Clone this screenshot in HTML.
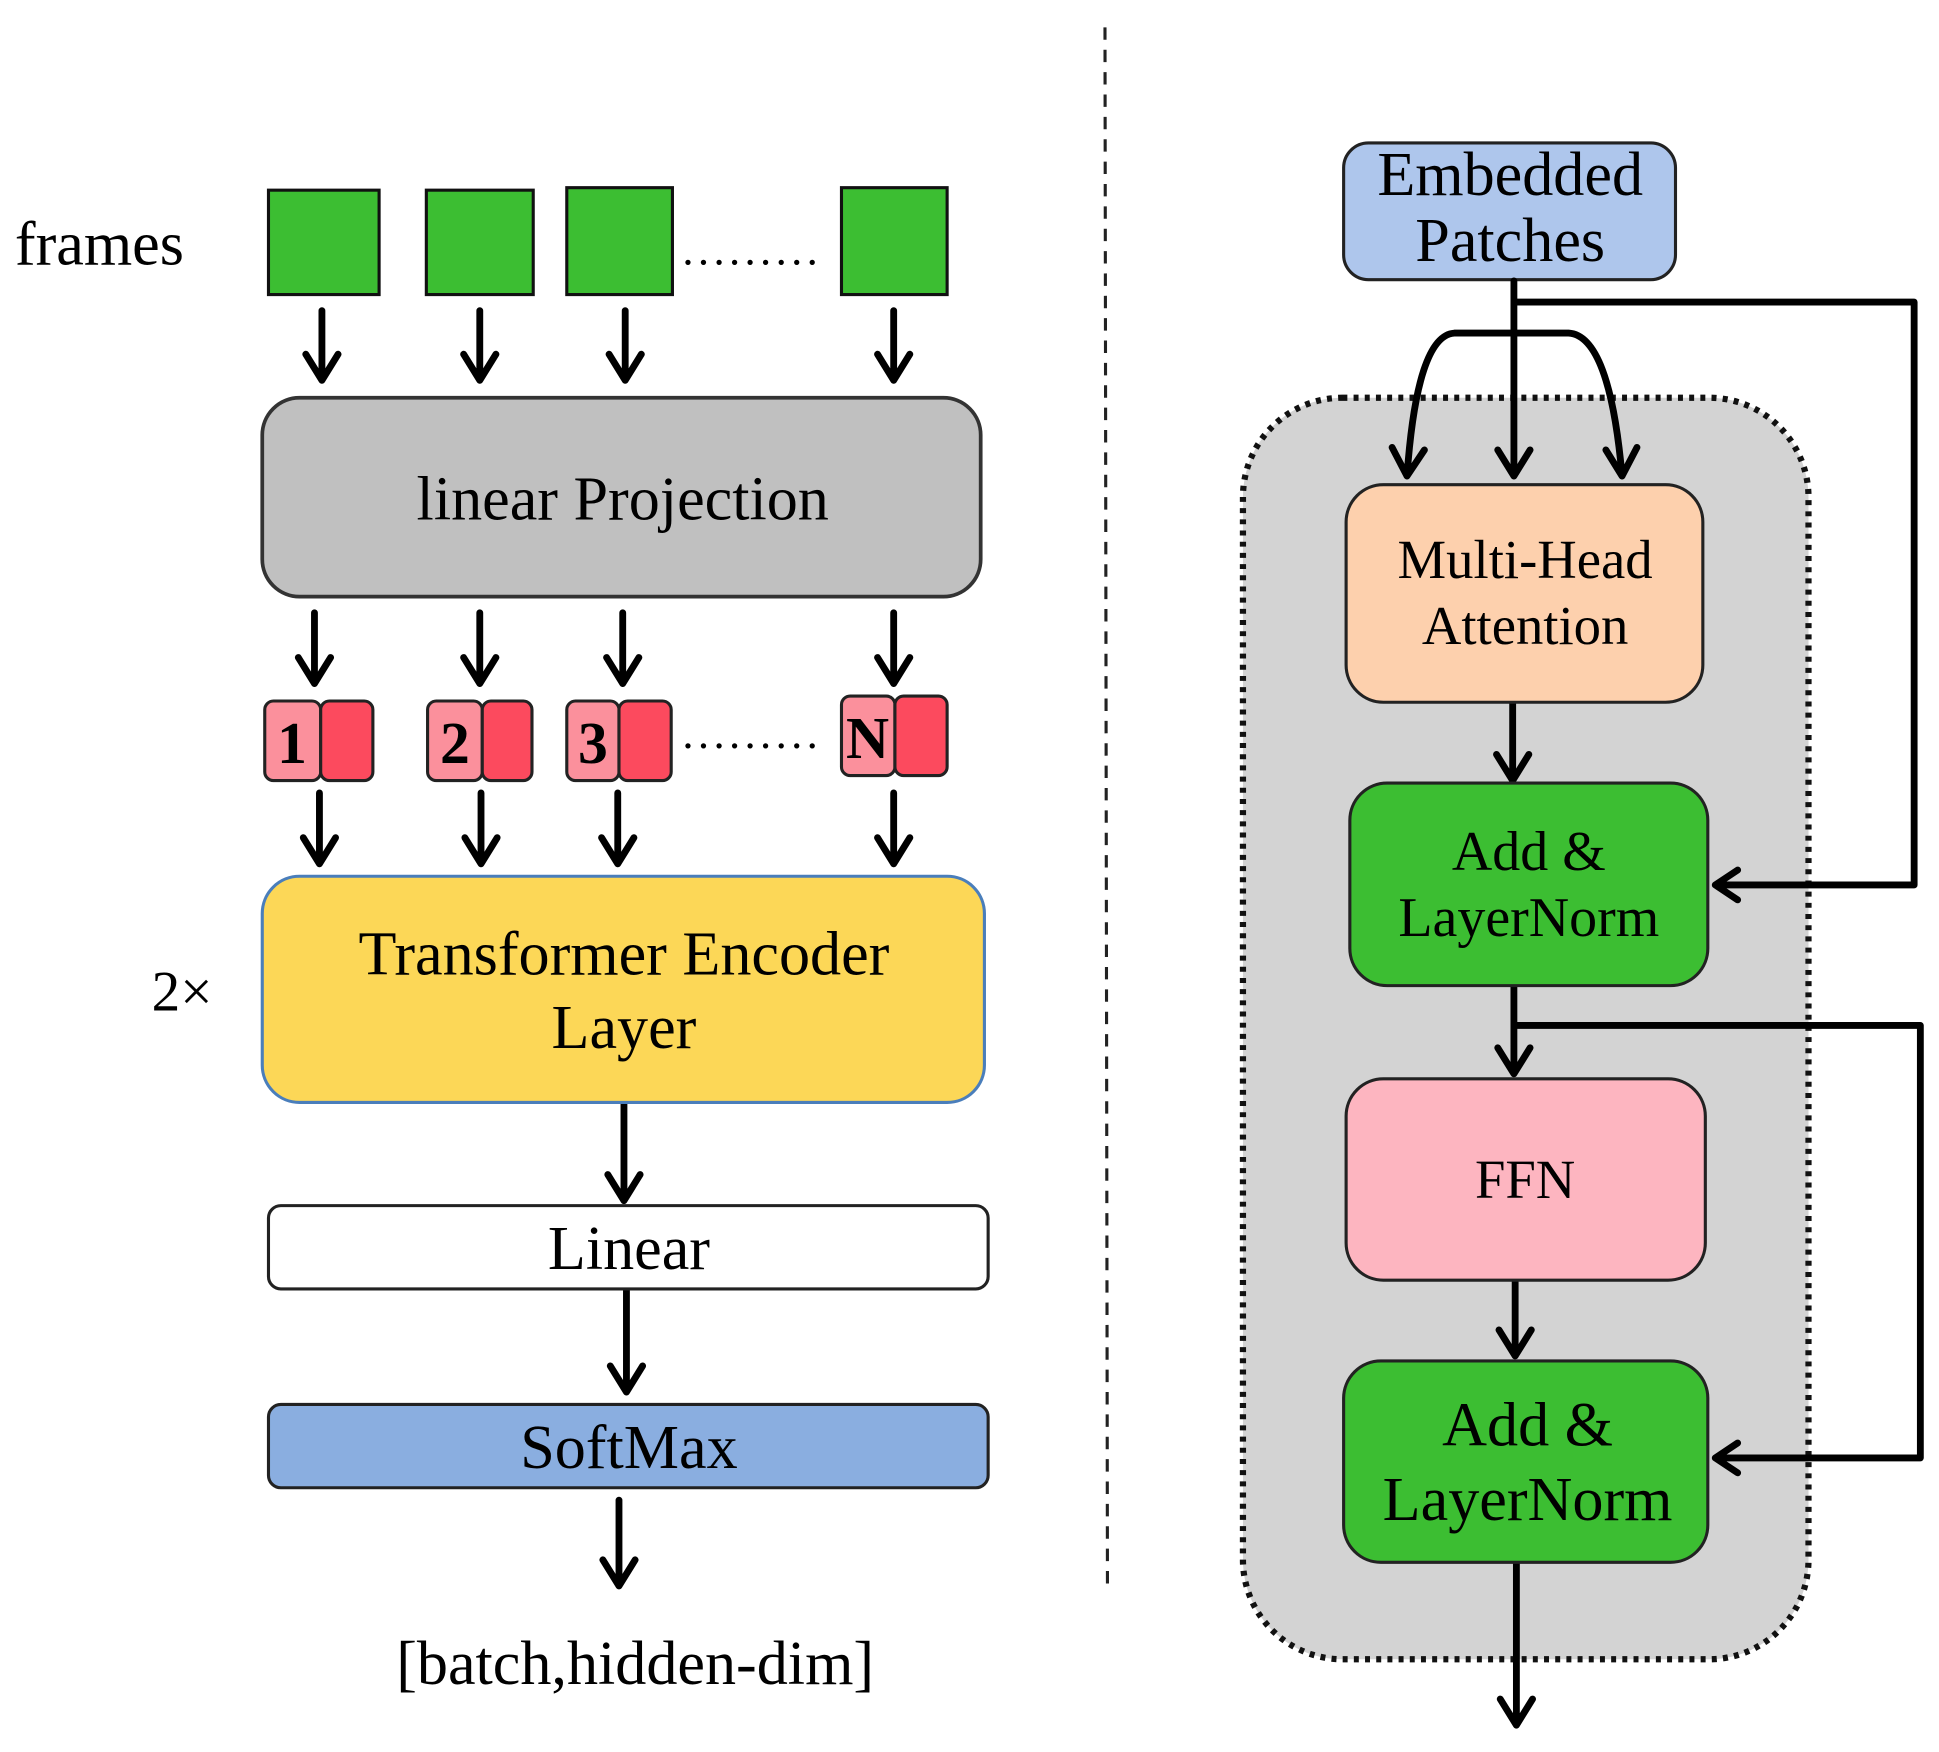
<!DOCTYPE html>
<html><head><meta charset="utf-8"><style>
html,body{margin:0;padding:0;background:#fff;}
svg{display:block;}
text{font-family:"Liberation Serif",serif;fill:#000;}
</style></head><body>
<svg width="1939" height="1752" viewBox="0 0 1560 1409.6" preserveAspectRatio="none" xmlns="http://www.w3.org/2000/svg">
<!-- left -->
<text x="12" y="213" font-size="50">frames</text>
<g fill="#3cbe32" stroke="#111" stroke-width="2.5">
<rect x="216" y="153" width="89" height="84"/>
<rect x="343" y="153" width="86" height="84"/>
<rect x="456" y="151" width="85" height="86"/>
<rect x="677" y="151" width="85" height="86"/>
</g>
<text x="549" y="213" font-size="36" letter-spacing="3.5">.........</text>

<g stroke="#000" stroke-width="5.5" fill="none" stroke-linecap="round" stroke-linejoin="round">
<path d="M259 250V306M246 285L259 306L272 285"/>
<path d="M386 250V306M373 285L386 306L399 285"/>
<path d="M503 250V306M490 285L503 306L516 285"/>
<path d="M719 250V306M706 285L719 306L732 285"/>
<path d="M253 493V550M240 529L253 550L266 529"/>
<path d="M386 493V550M373 529L386 550L399 529"/>
<path d="M501 493V550M488 529L501 550L514 529"/>
<path d="M719 493V550M706 529L719 550L732 529"/>
<path d="M257 638V695M244 674L257 695L270 674"/>
<path d="M387 638V695M374 674L387 695L400 674"/>
<path d="M497 638V695M484 674L497 695L510 674"/>
<path d="M719 638V695M706 674L719 695L732 674"/>
<path d="M502 888V966M489 945L502 966L515 945"/>
<path d="M504 1038V1120M491 1099L504 1120L517 1099"/>
<path d="M498 1207V1276M485 1255L498 1276L511 1255"/>
</g>

<rect x="211" y="320" width="578" height="160" rx="30" fill="#c0c0c0" stroke="#333" stroke-width="3"/>
<text x="501" y="418" font-size="50" text-anchor="middle">linear Projection</text>

<g stroke="#222" stroke-width="2.5">
<rect x="213" y="564" width="45" height="64" rx="7" fill="#fb909c"/>
<rect x="258" y="564" width="42" height="64" rx="7" fill="#fc4a5e"/>
<rect x="344" y="564" width="44" height="64" rx="7" fill="#fb909c"/>
<rect x="388" y="564" width="40" height="64" rx="7" fill="#fc4a5e"/>
<rect x="456" y="564" width="42" height="64" rx="7" fill="#fb909c"/>
<rect x="498" y="564" width="42" height="64" rx="7" fill="#fc4a5e"/>
<rect x="677" y="560" width="43" height="64" rx="7" fill="#fb909c"/>
<rect x="720" y="560" width="42" height="64" rx="7" fill="#fc4a5e"/>
</g>
<g font-size="48" font-weight="bold" text-anchor="middle">
<text x="235" y="614">1</text><text x="366" y="614">2</text><text x="477" y="614">3</text><text x="698" y="610">N</text>
</g>
<text x="549" y="602" font-size="36" letter-spacing="3.5">.........</text>

<rect x="211" y="705" width="581" height="182" rx="30" fill="#fcd757" stroke="#4a7ebb" stroke-width="2.5"/>
<text x="502" y="784" font-size="50" text-anchor="middle">Transformer Encoder</text>
<text x="502" y="843" font-size="50" text-anchor="middle">Layer</text>
<text x="122" y="813" font-size="46">2×</text>

<rect x="216" y="970" width="579" height="67" rx="10" fill="#fff" stroke="#222" stroke-width="2.5"/>
<text x="506" y="1021" font-size="50" text-anchor="middle">Linear</text>
<rect x="216" y="1130" width="579" height="67" rx="10" fill="#8aaee0" stroke="#222" stroke-width="2.5"/>
<text x="506" y="1181" font-size="50" text-anchor="middle">SoftMax</text>
<text x="511" y="1355" font-size="50" text-anchor="middle">[batch,hidden-dim]</text>

<line x1="889" y1="22" x2="891" y2="1280" stroke="#222" stroke-width="2.5" stroke-dasharray="10,8"/>

<!-- right -->
<rect x="1000" y="320" width="455" height="1015" rx="80" fill="#d3d3d3" stroke="#111" stroke-width="5" stroke-dasharray="4,5"/>
<rect x="1081" y="115" width="267" height="110" rx="20" fill="#aec6ec" stroke="#222" stroke-width="2.5"/>
<text x="1215" y="157" font-size="50" text-anchor="middle">Embedded</text>
<text x="1215" y="210" font-size="50" text-anchor="middle">Patches</text>

<g stroke="#000" stroke-width="5.5" fill="none" stroke-linecap="round" stroke-linejoin="round">
<path d="M1218 226V383M1205 362L1218 383L1231 362"/>
<path d="M1218 243H1540V712H1380M1398 700L1380 712L1398 724"/>
<path d="M1218 268H1170Q1140 270 1132 383M1120 360L1132 383L1146 362"/>
<path d="M1218 268H1262Q1295 270 1305 383M1292 362L1305 383L1317 360"/>
<path d="M1217 566V628M1204 607L1217 628L1230 607"/>
<path d="M1218 794V864M1205 843L1218 864L1231 843"/>
<path d="M1218 825H1545V1173H1380M1398 1161L1380 1173L1398 1185"/>
<path d="M1219 1031V1091M1206 1070L1219 1091L1232 1070"/>
<path d="M1220 1258V1388M1207 1367L1220 1388L1233 1367"/>
</g>

<rect x="1083" y="390" width="287" height="175" rx="30" fill="#fdd0ad" stroke="#222" stroke-width="2.5"/>
<text x="1227" y="465" font-size="44" text-anchor="middle">Multi-Head</text>
<text x="1227" y="518" font-size="44" text-anchor="middle">Attention</text>

<rect x="1086" y="630" width="288" height="163" rx="30" fill="#3cbe32" stroke="#222" stroke-width="2.5"/>
<text x="1230" y="700" font-size="45" text-anchor="middle">Add &amp;</text>
<text x="1230" y="753" font-size="45" text-anchor="middle">LayerNorm</text>

<rect x="1083" y="868" width="289" height="162" rx="30" fill="#fdb5c0" stroke="#222" stroke-width="2.5"/>
<text x="1227" y="964" font-size="44" text-anchor="middle">FFN</text>

<rect x="1081" y="1095" width="293" height="162" rx="30" fill="#3cbe32" stroke="#222" stroke-width="2.5"/>
<text x="1229" y="1163" font-size="50" text-anchor="middle">Add &amp;</text>
<text x="1229" y="1223" font-size="50" text-anchor="middle">LayerNorm</text>
</svg>
</body></html>
